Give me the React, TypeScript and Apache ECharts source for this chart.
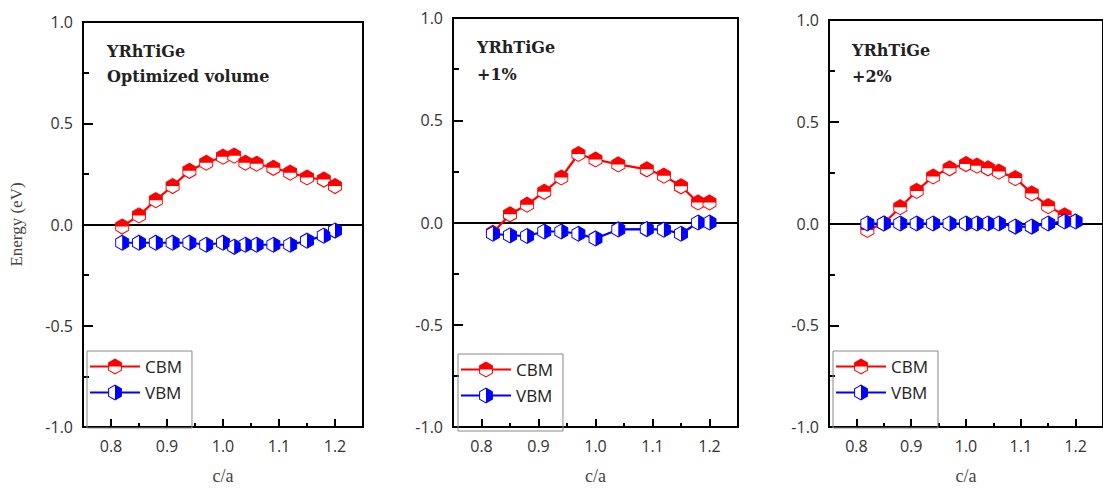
import React, { useEffect, useRef } from "react";
import * as echarts from "echarts";

// ---- data ----
const xMajorTicks = [0.8, 0.9, 1.0, 1.1, 1.2];
const xMinorTicks = [0.85, 0.95, 1.05, 1.15];

const panelNotes = ["Optimized volume", "+1%", "+2%"];
const compound = "YRhTiGe";

const cbmX1 = [0.82, 0.85, 0.88, 0.91, 0.94, 0.97, 1.0, 1.02, 1.04, 1.06, 1.09, 1.12, 1.15, 1.18, 1.2];
const cbmY1 = [-0.01, 0.045, 0.12, 0.19, 0.265, 0.305, 0.335, 0.34, 0.305, 0.3, 0.28, 0.256, 0.232, 0.222, 0.19];
const vbmX1 = [0.82, 0.85, 0.88, 0.91, 0.94, 0.97, 1.0, 1.02, 1.04, 1.06, 1.09, 1.12, 1.15, 1.18, 1.2];
const vbmY1 = [-0.09, -0.09, -0.09, -0.09, -0.09, -0.1, -0.09, -0.11, -0.1, -0.1, -0.1, -0.1, -0.08, -0.055, -0.03];

const cbmX2 = [0.82, 0.85, 0.88, 0.91, 0.94, 0.97, 1.0, 1.04, 1.09, 1.12, 1.15, 1.18, 1.2];
const cbmY2 = [-0.05, 0.04, 0.087, 0.15, 0.22, 0.335, 0.308, 0.284, 0.26, 0.229, 0.177, 0.098, 0.098];
const vbmX2 = [0.82, 0.85, 0.88, 0.91, 0.94, 0.97, 1.0, 1.04, 1.09, 1.12, 1.15, 1.18, 1.2];
const vbmY2 = [-0.055, -0.063, -0.066, -0.044, -0.044, -0.055, -0.078, -0.034, -0.032, -0.035, -0.055, 0.0, 0.0];

const cbmX3 = [0.82, 0.85, 0.88, 0.91, 0.94, 0.97, 1.0, 1.02, 1.04, 1.06, 1.09, 1.12, 1.15, 1.18];
const cbmY3 = [-0.032, 0.0, 0.08, 0.16, 0.231, 0.271, 0.292, 0.284, 0.271, 0.255, 0.223, 0.148, 0.085, 0.04];
const vbmX3 = [0.82, 0.85, 0.88, 0.91, 0.94, 0.97, 1.0, 1.02, 1.04, 1.06, 1.09, 1.12, 1.15, 1.18, 1.2];
const vbmY3 = [0, 0, 0, 0, 0, 0, 0, 0, 0, 0, -0.015, -0.015, 0, 0.01, 0.01];

const panels = [
  { cbmX: cbmX1, cbmY: cbmY1, vbmX: vbmX1, vbmY: vbmY1 },
  { cbmX: cbmX2, cbmY: cbmY2, vbmX: vbmX2, vbmY: vbmY2 },
  { cbmX: cbmX3, cbmY: cbmY3, vbmX: vbmX3, vbmY: vbmY3 },
];

// ---- layout / style ----
const grids = [
  { left: 83, top: 22, width: 280, height: 416 },
  { left: 453, top: 18, width: 285, height: 425 },
  { left: 829, top: 20, width: 281, height: 419 },
];
const legendPos = [
  { left: 87, top: 351 },
  { left: 458, top: 354 },
  { left: 833, top: 351 },
];
const notePos = [
  { x: 107, y1: 43, y2: 68 },
  { x: 477, y1: 39, y2: 66 },
  { x: 852, y1: 42, y2: 68 },
];

const RED = "#ff0000";
const BLUE = "#0000ff";
const HEX = "path://M50,0 L93.3,25 L93.3,75 L50,100 L6.7,75 L6.7,25 Z";
const HEX_TOP = "path://M50,0 L93.3,25 L93.3,50 L6.7,50 L6.7,25 Z";
const HEX_RIGHT = "path://M50,0 L93.3,25 L93.3,75 L50,100 Z";
const SYM_W = 13;
const SYM_H = 15;

const LINES = "M0,7 L18.1,7 L18.1,9 L0,9 Z M31.9,7 L50,7 L50,9 L31.9,9 Z ";
const ICON_CBM =
  "path://" +
  LINES +
  "M25,0 L31.93,4 L31.93,8 L18.07,8 L18.07,4 Z " +
  "M31.93,8 L31.93,12 L25,16 L18.07,12 L18.07,8 L19.1,8 L19.1,11.4 L25,14.8 L30.9,11.4 L30.9,8 Z";
const ICON_VBM =
  "path://" +
  LINES +
  "M25,0 L31.93,4 L31.93,12 L25,16 Z " +
  "M25,0 L18.07,4 L18.07,12 L25,16 L25,14.8 L19.1,11.4 L19.1,4.6 L25,1.2 Z";

const SANS = "'Open Sans', 'Noto Sans', sans-serif";
const SERIF = "'Liberation Serif', 'DejaVu Serif', serif";

function buildOption() {
  const xAxis: any[] = [];
  const yAxis: any[] = [];
  const series: any[] = [];
  const legend: any[] = [];
  const graphic: any[] = [];

  grids.forEach((g, i) => {
    // main x axis (labels + major ticks)
    xAxis.push({
      type: "value",
      gridIndex: i,
      min: 0.75,
      max: 1.25,
      position: "bottom",
      name: "c/a",
      nameLocation: "middle",
      nameGap: 40,
      nameTextStyle: { fontFamily: SERIF, fontSize: 18, color: "#444" },
      axisLine: { show: true, onZero: false, lineStyle: { color: "#000", width: 2 } },
      axisTick: { show: true, inside: true, length: 8, customValues: xMajorTicks, lineStyle: { color: "#000", width: 2 } },
      axisLabel: {
        show: true,
        customValues: xMajorTicks,
        formatter: (v: number) => v.toFixed(1),
        fontFamily: SANS,
        fontSize: 16,
        color: "#333",
        margin: 11,
      },
      splitLine: { show: false },
    });
    // minor ticks
    xAxis.push({
      type: "value",
      gridIndex: i,
      min: 0.75,
      max: 1.25,
      position: "bottom",
      axisLine: { show: false, onZero: false },
      axisTick: { show: true, inside: true, length: 4, customValues: xMinorTicks, lineStyle: { color: "#000", width: 2 } },
      axisLabel: { show: false },
      splitLine: { show: false },
    });
    // zero line
    xAxis.push({
      type: "value",
      gridIndex: i,
      min: 0.75,
      max: 1.25,
      position: "bottom",
      axisLine: { show: true, onZero: true, lineStyle: { color: "#000", width: 2 } },
      axisTick: { show: false },
      axisLabel: { show: false },
      splitLine: { show: false },
    });

    yAxis.push({
      type: "value",
      gridIndex: i,
      min: -1,
      max: 1,
      interval: 0.5,
      name: i === 0 ? "Energy (eV)" : "",
      nameLocation: "middle",
      nameGap: 58,
      nameTextStyle: { fontFamily: SERIF, fontSize: 17, color: "#444" },
      axisLine: { show: true, lineStyle: { color: "#000", width: 2 } },
      axisTick: { show: true, inside: true, length: 10, lineStyle: { color: "#000", width: 2 } },
      minorTick: { show: true, splitNumber: 2, length: 6, lineStyle: { color: "#000", width: 2 } },
      axisLabel: {
        formatter: (v: number) => v.toFixed(1),
        fontFamily: SANS,
        fontSize: 16,
        color: "#333",
        margin: 10,
      },
      splitLine: { show: false },
      minorSplitLine: { show: false },
    });

    const p = panels[i];
    const xi = i * 3;
    const cbmData = p.cbmX.map((x, k) => [x, p.cbmY[k]]);
    const vbmData = p.vbmX.map((x, k) => [x, p.vbmY[k]]);

    series.push({
      type: "line",
      name: "CBM",
      xAxisIndex: xi,
      yAxisIndex: i,
      z: 2,
      data: cbmData,
      symbol: HEX,
      symbolSize: [SYM_W, SYM_H],
      showAllSymbol: true,
      lineStyle: { color: RED, width: 2.2 },
      itemStyle: { color: "#fff", borderColor: RED, borderWidth: 1 },
    });
    series.push({
      type: "scatter",
      name: "CBM half",
      xAxisIndex: xi,
      yAxisIndex: i,
      z: 3,
      data: cbmData,
      symbol: HEX_TOP,
      symbolSize: [SYM_W, SYM_H / 2],
      symbolOffset: [0, -SYM_H / 4],
      itemStyle: { color: RED, opacity: 1 },
    });
    series.push({
      type: "line",
      name: "VBM",
      xAxisIndex: xi,
      yAxisIndex: i,
      z: 4,
      data: vbmData,
      symbol: HEX,
      symbolSize: [SYM_W, SYM_H],
      showAllSymbol: true,
      lineStyle: { color: BLUE, width: 2.2 },
      itemStyle: { color: "#fff", borderColor: BLUE, borderWidth: 1 },
    });
    series.push({
      type: "scatter",
      name: "VBM half",
      xAxisIndex: xi,
      yAxisIndex: i,
      z: 5,
      data: vbmData,
      symbol: HEX_RIGHT,
      symbolSize: [SYM_W / 2, SYM_H],
      symbolOffset: [SYM_W / 4, 0],
      itemStyle: { color: BLUE, opacity: 1 },
    });

    legend.push({
      left: legendPos[i].left,
      top: legendPos[i].top,
      orient: "vertical",
      selectedMode: false,
      padding: [7, 10, 27, 3],
      itemGap: 9,
      itemWidth: 50,
      itemHeight: 16,
      borderColor: "#888",
      borderWidth: 1,
      textStyle: { fontFamily: SANS, fontSize: 17, color: "#222" },
      data: [
        { name: "CBM", icon: ICON_CBM, itemStyle: { color: RED, borderWidth: 0 } },
        { name: "VBM", icon: ICON_VBM, itemStyle: { color: BLUE, borderWidth: 0 } },
      ],
    });

    graphic.push({
      type: "text",
      left: notePos[i].x,
      top: notePos[i].y1,
      style: { text: compound, font: "bold 16px 'DejaVu Serif', serif", fill: "#222" },
    });
    graphic.push({
      type: "text",
      left: notePos[i].x,
      top: notePos[i].y2,
      style: { text: panelNotes[i], font: "bold 16px 'DejaVu Serif', serif", fill: "#222" },
    });
  });

  return {
    animation: false,
    backgroundColor: "#fff",
    grid: grids.map((g) => ({ ...g, show: true, borderColor: "#000", borderWidth: 2, backgroundColor: "transparent" })),
    xAxis,
    yAxis,
    series,
    legend,
    graphic,
  };
}

export default function App() {
  const ref = useRef<HTMLDivElement>(null);
  useEffect(() => {
    if (!ref.current) return;
    const chart = echarts.init(ref.current, null, { renderer: "svg" });
    chart.setOption(buildOption() as any);
    return () => chart.dispose();
  }, []);
  return (
    <div
      ref={ref}
      style={{ position: "fixed", left: 0, top: 0, width: 1103, height: 490, background: "#fff" }}
    />
  );
}
